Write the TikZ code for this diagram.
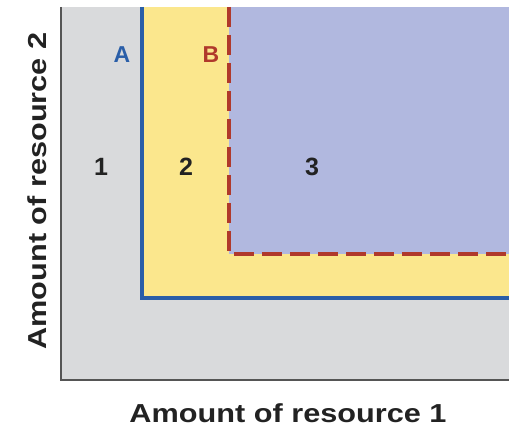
\documentclass[tikz,border=0pt]{standalone}
\usepackage{fontspec}
\setmainfont{Liberation Sans}
\definecolor{grayfill}{HTML}{D9DADC}
\definecolor{yellowfill}{HTML}{FBE78D}
\definecolor{bluefill}{HTML}{B1B8DF}
\definecolor{bluel}{HTML}{2A5EA8}
\definecolor{redl}{HTML}{B0392B}
\definecolor{axisc}{HTML}{555555}
\definecolor{textc}{HTML}{222222}
\newcommand{\widetext}[1]{\scalebox{1.18}[1]{#1}}
\begin{document}
\begin{tikzpicture}[x=1pt,y=-1pt,
  lineA/.style={draw=bluel,line width=4pt},
  lineB/.style={draw=redl,line width=4pt,dash pattern=on 20pt off 8pt},
  axislabel/.style={font=\bfseries\fontsize{26}{30}\selectfont,text=textc},
  regionlabel/.style={font=\bfseries\fontsize{25}{29}\selectfont,text=textc},
  curvelabel/.style={font=\bfseries\fontsize{23}{27}\selectfont}]
\useasboundingbox (0,0) rectangle (509,427);
\fill[grayfill] (61,7) rectangle (509,380);
\fill[yellowfill] (142,7) rectangle (509,298);
\fill[bluefill] (229,7) rectangle (509,254);
\draw[axisc,line width=2pt] (61,7) -- (61,380) -- (509,380);
\coordinate (Atop) at (142,7);
\coordinate (Acorner) at (142,298);
\coordinate (Aend) at (509,298);
\coordinate (Btop) at (229,7);
\coordinate (Bcorner) at (229,254);
\coordinate (Bend) at (509,254);
\draw[lineA] (Atop) -- (Acorner) -- (Aend);
\draw[lineB] (Btop) -- (Bcorner) -- (Bend);
\node[curvelabel,text=bluel] (labA) at (122,55) {A};
\node[curvelabel,text=redl] (labB) at (211,55) {B};
\node[regionlabel] (r1) at (101,167) {1};
\node[regionlabel] (r2) at (186,167) {2};
\node[regionlabel] (r3) at (312,167) {3};
\node[axislabel] (xl) at (288,413) {\widetext{Amount of resource 1}};
\node[axislabel,rotate=90] (yl) at (37,191) {\widetext{Amount of resource 2}};
\end{tikzpicture}
\end{document}
